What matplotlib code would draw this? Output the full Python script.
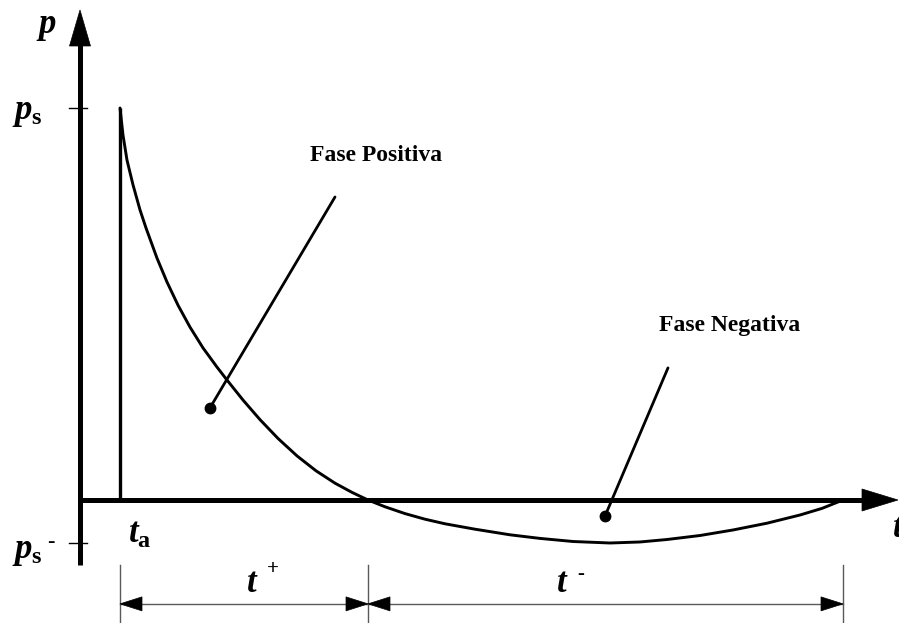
import matplotlib
matplotlib.use("Agg")
import matplotlib.pyplot as plt
from matplotlib.patches import Polygon
import numpy as np

plt.rcParams['mathtext.fontset'] = 'custom'
plt.rcParams['mathtext.it'] = 'Liberation Serif:italic:bold'
plt.rcParams['mathtext.rm'] = 'Liberation Serif:bold'
plt.rcParams['mathtext.bf'] = 'Liberation Serif:bold'

# Pressure-time history of a blast wave (p normalised to peak overpressure ps)
t_curve = [0.40, 0.43, 0.47, 0.53, 0.60, 0.66, 0.77, 0.87, 0.98, 1.10,
           1.23, 1.37, 1.47, 1.63, 1.80, 1.98, 2.17, 2.36, 2.55, 2.72,
           2.88, 3.05, 3.25, 3.45, 3.65, 3.95, 4.30, 4.60, 4.93, 5.30,
           5.60, 5.87, 6.20, 6.53, 6.87, 7.20, 7.42, 7.63]
p_curve = [1.000, 0.931, 0.867, 0.804, 0.740, 0.694, 0.617, 0.556, 0.497,
           0.441, 0.388, 0.339, 0.306, 0.255, 0.205, 0.157, 0.1125, 0.0745,
           0.0429, 0.0194, 0.0, -0.0173, -0.0347, -0.049, -0.0607, -0.0745,
           -0.0888, -0.098, -0.1059, -0.1097, -0.1071, -0.1008, -0.0906,
           -0.0765, -0.0592, -0.0383, -0.0214, 0.0]

t_arrival = 0.40      # t_a
t_zero = 2.88         # end of positive phase
t_end = 7.63          # end of negative phase
p_peak = 1.0          # ps
p_min = -0.110        # ps-

# leader lines: (text side end, dot end)
lead_pos = [(2.55, 0.773), (1.30, 0.235)]
lead_neg = [(5.88, 0.337), (5.25, -0.041)]

W, H, DPI = 899, 623, 100
fig = plt.figure(figsize=(W / DPI, H / DPI), dpi=DPI)
ax = fig.add_axes([0, 0, 1, 1])
ax.set_xlim(-0.80, 8.19)
ax.set_ylim(-0.3138, 1.2755)
ax.axis('off')

BLACK = '#000000'
GREY = '#5a5a5a'


def to_px(x, y):
    return ax.transData.transform((x, y))


def head(tip, direction, length, half_width):
    """Filled triangular arrow head drawn in pixel space."""
    tx, ty = to_px(*tip)
    dx, dy = direction
    n = np.hypot(dx, dy)
    dx, dy = dx / n, dy / n
    bx, by = tx - dx * length, ty - dy * length
    px, py = -dy, dx
    pts = [(tx, ty), (bx + px * half_width, by + py * half_width),
           (bx - px * half_width, by - py * half_width)]
    fig.patches.append(Polygon(pts, closed=True, transform=None,
                               facecolor=BLACK, edgecolor=BLACK, lw=0.5))


# --- axes -------------------------------------------------------------
y_bot = -0.166
y_tip = 1.25
x_tip = 8.18
ax.plot([0, 0], [y_bot, 1.17], color=BLACK, lw=3.6, solid_capstyle='butt')
head((0, y_tip), (0, 1), 36, 10.5)
ax.plot([0, 7.9], [0, 0], color=BLACK, lw=3.6, solid_capstyle='butt')
head((x_tip, 0), (1, 0), 36, 11)

# ticks for ps and ps-
ax.plot([-0.11, 0.07], [p_peak, p_peak], color=BLACK, lw=1.0)
ax.plot([-0.11, 0.07], [p_min, p_min], color=BLACK, lw=1.0)

# --- pressure history --------------------------------------------------
ax.plot([t_arrival, t_arrival], [0, p_peak], color=BLACK, lw=2.4,
        solid_capstyle='butt')
ax.plot(t_curve, p_curve, color=BLACK, lw=2.1, solid_joinstyle='round',
        solid_capstyle='round')

# --- leader lines with dots -------------------------------------------
for (a, b) in (lead_pos, lead_neg):
    ax.plot([a[0], b[0]], [a[1], b[1]], color=BLACK, lw=2.0,
            solid_capstyle='round')
    ax.plot([b[0]], [b[1]], 'o', color=BLACK, ms=7.5)

ax.text(2.96, 0.88, 'Fase Positiva', family='Liberation Serif',
        weight='bold', fontsize=17, ha='center', va='center')
ax.text(6.50, 0.446, 'Fase Negativa', family='Liberation Serif',
        weight='bold', fontsize=17, ha='center', va='center')

# --- dimension lines ---------------------------------------------------
y_dim = -0.265
y_ext_top = -0.166
for tx in (t_arrival, t_zero, t_end):
    ax.plot([tx, tx], [y_ext_top, -0.3138], color=GREY, lw=1.0)
ax.plot([t_arrival, t_end], [y_dim, y_dim], color=GREY, lw=1.0)
head((t_arrival, y_dim), (-1, 0), 22, 7)
head((t_zero, y_dim), (1, 0), 22, 7)
head((t_zero, y_dim), (-1, 0), 22, 7)
head((t_end, y_dim), (1, 0), 22, 7)

# --- labels ------------------------------------------------------------
lab = dict(fontsize=25, color=BLACK)
small = dict(family='Liberation Serif', weight='bold', color=BLACK,
             ha='left', va='center')
ax.text(-0.34, 1.209, r'$p$', ha='center', va='center', **lab)
ax.text(-0.68, 0.99, r'$p_{\mathrm{s}}$', ha='left', va='center', **lab)
ax.text(-0.68, -0.130, r'$p_{\mathrm{s}}$', ha='left', va='center', **lab)
ax.text(-0.33, -0.108, '-', fontsize=16, **small)
ax.text(0.48, -0.085, r'$t_{\mathrm{a}}$', ha='left', va='center', **lab)
ax.text(8.12, -0.07, r'$t$', ha='left', va='center', **lab)
ax.text(1.66, -0.21, r'$t$', ha='left', va='center', **lab)
ax.text(1.87, -0.175, '+', fontsize=15, **small)
ax.text(4.76, -0.21, r'$t$', ha='left', va='center', **lab)
ax.text(4.97, -0.19, '-', fontsize=15, **small)

fig.savefig('out.png', dpi=DPI)
